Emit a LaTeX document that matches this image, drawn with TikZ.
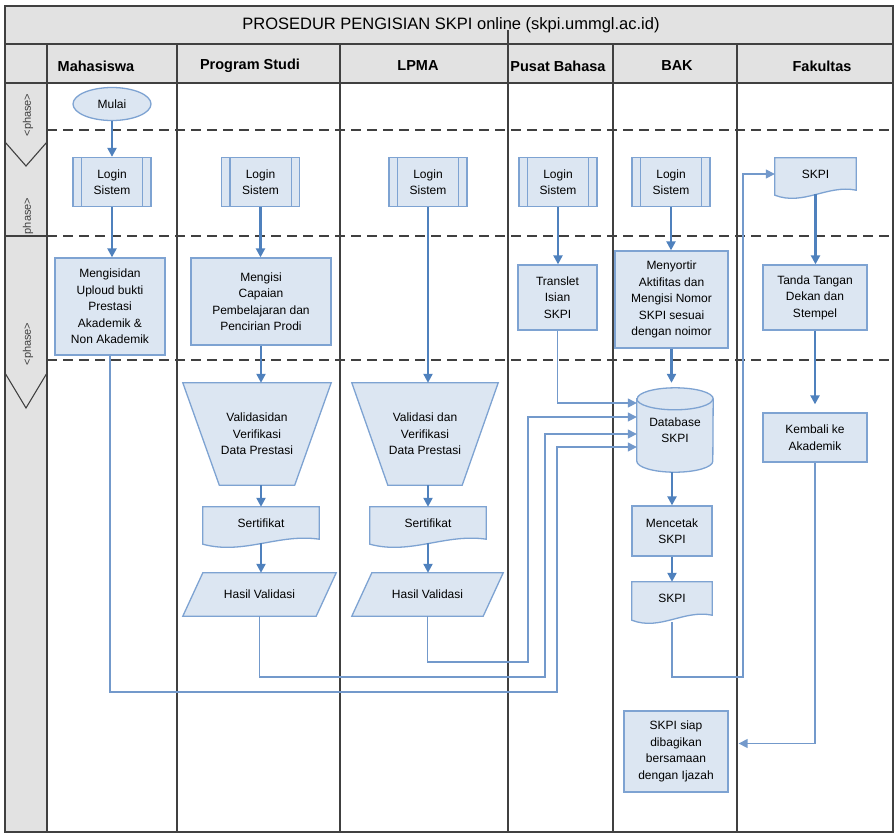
\documentclass[tikz,border=0pt]{standalone}
\usepackage{fontspec}
\setmainfont{Liberation Sans}
\usetikzlibrary{arrows.meta,shapes.geometric,calc}
\definecolor{gridc}{HTML}{404040}
\definecolor{greyc}{HTML}{E2E2E2}
\definecolor{nfill}{HTML}{DCE6F2}
\definecolor{nline}{HTML}{7EA3D2}
\definecolor{arr}{HTML}{4F81BD}
\definecolor{thinc}{HTML}{7399CB}
\pgfdeclarelayer{gridlayer}
\pgfdeclarelayer{shapelayer}
\pgfsetlayers{gridlayer,shapelayer,main}
\tikzset{
 txt/.style={font=\fontsize{12}{16.5}\selectfont, align=center, inner sep=0pt, text=black},
 box/.style={txt, rectangle, draw=nline, fill=nfill, line width=1.3pt},
 ghost/.style={txt, rectangle, draw=none},
 sz/.style 2 args={minimum width=#1pt, minimum height=#2pt},
 shapeln/.style={draw=nline, fill=nfill, line width=1.3pt},
 flow/.style={draw=arr, line width=2.2pt, -{Triangle[length=9pt,width=9pt]}},
 link/.style={draw=thinc, line width=1.4pt, -{Triangle[length=9pt,width=9pt]}},
 lane/.style={draw=gridc, line width=1.1pt},
 phaseln/.style={draw=gridc, line width=1.5pt, dash pattern=on 10pt off 6pt},
 hdr/.style={font=\fontsize{14.5}{16}\selectfont\bfseries, inner sep=0pt},
 phlabel/.style={font=\fontsize{11}{12}\selectfont, rotate=90, inner sep=0pt, text=gridc},
}
\newcommand{\trapz}[2]{\path[shapeln] (#1.north west) -- (#1.north east) -- ([xshift=-#2pt]#1.south east) -- ([xshift=#2pt]#1.south west) -- cycle;}
\newcommand{\parlg}[1]{\path[shapeln] ([xshift=10pt]#1.north west) -- ([xshift=10pt]#1.north east) -- ([xshift=-10pt]#1.south east) -- ([xshift=-10pt]#1.south west) -- cycle;}
\newcommand{\docsh}[1]{\path[shapeln] (#1.north west) -- (#1.north east) -- (#1.south east) .. controls ($(#1.south west)!0.65!(#1.south east)+(0,6)$) and ($(#1.south west)!0.35!(#1.south east)+(0,-16)$) .. ([yshift=-5pt]#1.south west) -- cycle;}
\newcommand{\cyl}[3]{\path[shapeln] ([yshift=-#3pt]#1.north west) -- ([yshift=#3pt]#1.south west) arc[start angle=180, end angle=360, x radius=#2pt, y radius=#3pt] -- ([yshift=-#3pt]#1.north east) arc[start angle=0, end angle=180, x radius=#2pt, y radius=#3pt] -- cycle;
\draw[draw=nline, line width=1.3pt] ([yshift=-#3pt]#1.north west) arc[start angle=180, end angle=360, x radius=#2pt, y radius=#3pt];}
\newcommand{\predef}[1]{\draw[draw=nline, line width=1.3pt] ([xshift=9pt]#1.north west) -- ([xshift=9pt]#1.south west) ([xshift=-9pt]#1.north east) -- ([xshift=-9pt]#1.south east);}
\begin{document}
\begin{tikzpicture}[x=1pt,y=1pt]
\useasboundingbox (0,0) rectangle (894,-836);
\begin{pgfonlayer}{gridlayer}
\fill[greyc] (5,-6) rectangle (894,-83);
\fill[greyc] (5,-83) rectangle (47,-832);
\draw[lane] (5,-6) rectangle (893,-832);
\draw[lane] (5,-44) -- (893,-44) (5,-83) -- (893,-83);
\foreach \x in {47,177,340,613,737} \draw[lane] (\x,-44) -- (\x,-832);
\draw[lane] (508,-30) -- (508,-832);
\foreach \y in {130,236,360} \draw[phaseln] (47,-\y) -- (893,-\y);
\draw[lane] (5,-236) -- (47,-236);
\draw[lane] (5,-142) -- (26,-166) -- (47,-142);
\draw[lane] (5,-373) -- (26,-408) -- (47,-373);
\end{pgfonlayer}

\node[font=\fontsize{16.5}{18}\selectfont, inner sep=0pt] (title) at (451,-25) {PROSEDUR PENGISIAN SKPI online (skpi.ummgl.ac.id)};
\node[hdr] (hM) at (96,-66) {Mahasiswa};
\node[hdr] (hP) at (250,-66) {Program Studi};
\node[hdr] (hL) at (418,-66) {LPMA};
\node[hdr] (hB) at (558,-66) {Pusat Bahasa};
\node[hdr] (hK) at (677,-66) {BAK};
\node[hdr] (hF) at (822,-66) {Fakultas};

\node[phlabel] (ph1) at (28,-115) {<phase>};
\node[phlabel] (ph2) at (28,-216) {phase>};
\node[phlabel] (ph3) at (28,-344) {<phase>};

% Mahasiswa
\node[box, ellipse, sz={78}{33}] (mulai) at (112,-104) {Mulai};
\node[box, sz={78}{49}] (loginM) at (112,-182) {Login\\Sistem};
\node[box, sz={110}{97}] (isiM) at (110,-306.5) {Mengisidan\\Uploud bukti\\Prestasi\\Akademik \&\\Non Akademik};
% Program Studi
\node[box, sz={78}{49}] (loginP) at (260.5,-182) {Login\\Sistem};
\node[box, sz={140}{87}] (capaian) at (261,-301.5) {Mengisi\\Capaian\\Pembelajaran dan\\Pencirian Prodi};
\node[ghost, sz={148}{102}] (valP) at (257,-434) {Validasidan\\Verifikasi\\Data Prestasi};
\node[ghost, sz={116}{32}] (sertP) at (261,-523) {Sertifikat};
\node[ghost, sz={133}{43}] (hasilP) at (259.5,-594.5) {Hasil Validasi};
% LPMA
\node[box, sz={78}{49}] (loginL) at (428,-182) {Login\\Sistem};
\node[ghost, sz={146}{102}] (valL) at (425,-434) {Validasi dan\\Verifikasi\\Data Prestasi};
\node[ghost, sz={116}{32}] (sertL) at (428,-523) {Sertifikat};
\node[ghost, sz={131}{43}] (hasilL) at (427.5,-594.5) {Hasil Validasi};
% Pusat Bahasa
\node[box, sz={78}{49}] (loginB) at (558,-182) {Login\\Sistem};
\node[box, sz={79}{65}] (translet) at (557.5,-297.5) {Translet\\Isian\\SKPI};
% BAK
\node[box, sz={78}{49}] (loginK) at (671,-182) {Login\\Sistem};
\node[box, sz={113}{97}] (sortir) at (671.5,-299.5) {Menyortir\\Aktifitas dan\\Mengisi Nomor\\SKPI sesuai\\dengan noimor};
\node[ghost, sz={76}{84}] (db) at (675,-430) {Database\\SKPI};
\node[box, sz={80}{50}] (cetak) at (672,-531) {Mencetak\\SKPI};
\node[ghost, sz={80}{33}] (skpiK) at (672,-598.5) {SKPI};
\node[box, sz={104}{81}] (siap) at (676,-751.5) {SKPI siap\\dibagikan\\bersamaan\\dengan Ijazah};
% Fakultas
\node[ghost, sz={81}{32}] (skpiF) at (815.5,-174) {SKPI};
\node[box, sz={104}{65}] (tanda) at (815,-297.5) {Tanda Tangan\\Dekan dan\\Stempel};
\node[box, sz={104}{49}] (kembali) at (815,-437.5) {Kembali ke\\Akademik};

\begin{pgfonlayer}{shapelayer}
\trapz{valP}{36.5}
\trapz{valL}{36}
\docsh{sertP}
\docsh{sertL}
\docsh{skpiK}
\docsh{skpiF}
\parlg{hasilP}
\parlg{hasilL}
\cyl{db}{38}{11}
\end{pgfonlayer}

\predef{loginM}
\predef{loginP}
\predef{loginL}
\predef{loginB}
\predef{loginK}

% main flows
\draw[flow] (mulai.south) -- (mulai.south |- loginM.north);
\draw[flow] (loginM.south) -- (loginM.south |- isiM.north);
\draw[flow] (loginP.south) -- (loginP.south |- capaian.north);
\draw[flow] (capaian.south) -- (capaian.south |- valP.north);
\draw[flow] (sertP.north |- valP.south) -- (sertP.north);
\draw[flow] ([yshift=-4pt]sertP.south) -- (sertP.south |- hasilP.north);
\draw[flow] (loginL.south) -- (loginL.south |- valL.north);
\draw[flow] (sertL.north |- valL.south) -- (sertL.north);
\draw[flow] ([yshift=-4pt]sertL.south) -- (sertL.south |- hasilL.north);
\draw[flow] (loginB.south) -- (loginB.south |- translet.north);
\draw[flow] (loginK.south) -- (loginK.south |- sortir.north);
\draw[flow, shorten >=5pt] (sortir.south) -- (sortir.south |- db.north);
\draw[flow] (cetak.north |- db.south) -- (cetak.north);
\draw[flow] (cetak.south) -- (cetak.south |- skpiK.north);
\draw[flow] ([yshift=-4pt]skpiF.south) -- (skpiF.south |- tanda.north);
\draw[flow, shorten >=8pt] (tanda.south) -- (tanda.south |- kembali.north);

% thin links
\coordinate (jM) at (557,-692);
\coordinate (jP) at (545,-677);
\coordinate (jL) at (528,-662);
\coordinate (jK) at (743,-677);
\draw[link] (translet.south) |- ([yshift=27pt]db.west);
\draw[link] (hasilL.south) |- (jL) |- ([yshift=13pt]db.west);
\draw[link] (hasilP.south) |- (jP) |- ([yshift=-4pt]db.west);
\draw[link] (isiM.south) |- (jM) |- ([yshift=-17pt]db.west);
\draw[link] ([yshift=-7pt]skpiK.south) |- (jK) |- (skpiF.west);
\draw[link] (kembali.south) |- ([xshift=10pt,yshift=8pt]siap.east);
\end{tikzpicture}
\end{document}
